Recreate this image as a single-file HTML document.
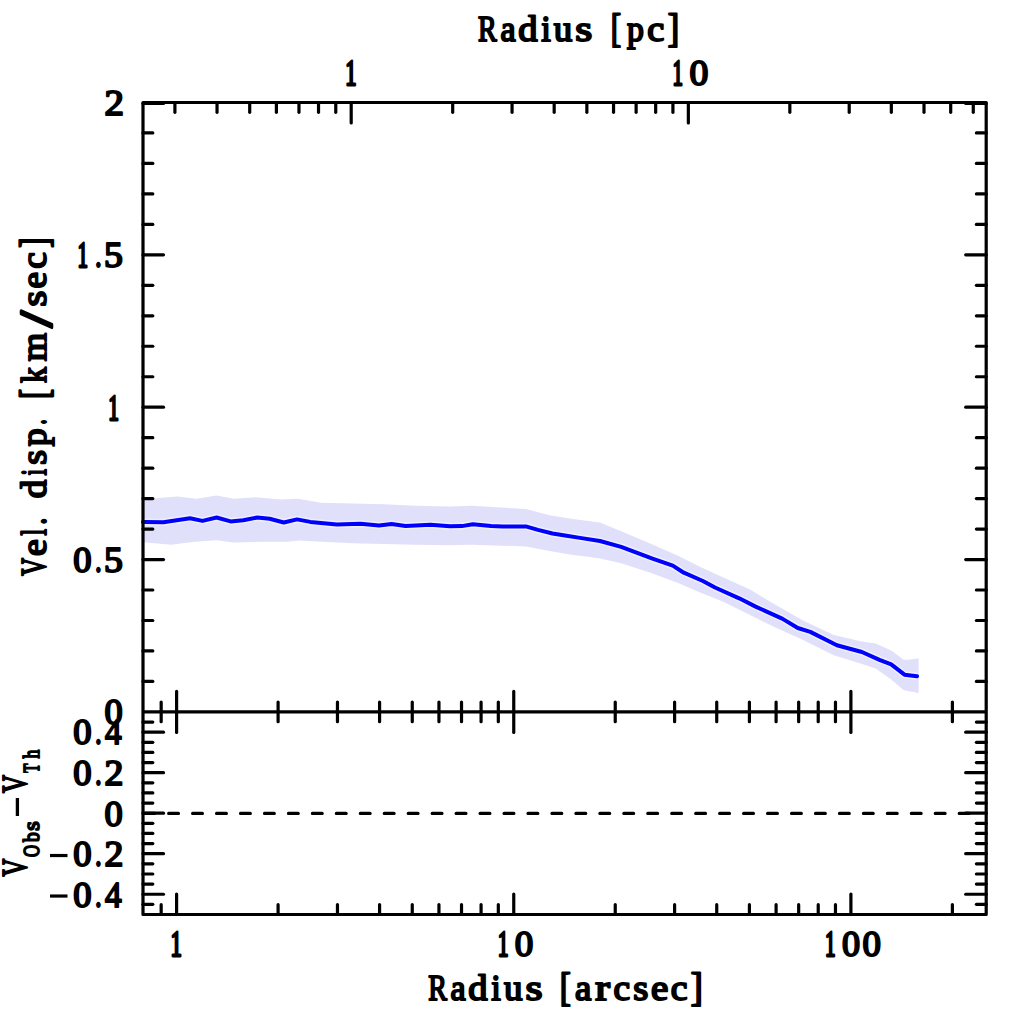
<!DOCTYPE html>
<html><head><meta charset="utf-8"><style>
html,body{margin:0;padding:0;background:#fff;width:1024px;height:1024px;overflow:hidden}
svg{display:block}
</style></head><body>
<svg width="1024" height="1024" viewBox="0 0 1024 1024">
<rect width="1024" height="1024" fill="#fff"/>
<path d="M143.0,500.5 L146.0,500.3 L158.8,498.0 L177.5,496.4 L196.2,498.8 L216.6,495.6 L233.8,498.8 L255.6,497.2 L280.6,499.5 L297.8,498.8 L321.2,502.7 L352.5,503.4 L383.8,504.2 L415.0,505.8 L450.0,506.6 L471.2,505.8 L526.0,508.9 L549.4,515.2 L572.8,519.0 L600.0,522.5 L621.2,531.2 L652.5,544.5 L677.5,555.5 L699.4,566.4 L722.8,577.3 L750.0,589.5 L771.2,602.2 L802.5,620.2 L833.8,635.0 L862.0,641.5 L875.6,643.4 L891.2,650.5 L903.8,659.8 L908.4,659.8 L918.6,658.3 L918.6,693.0 L903.8,690.3 L891.2,679.4 L875.6,668.4 L862.0,664.0 L833.8,655.3 L802.5,639.7 L771.2,625.6 L750.0,615.0 L722.8,601.6 L699.4,592.2 L677.5,582.8 L652.5,573.4 L621.2,563.3 L600.0,558.5 L590.0,557.0 L572.8,555.0 L549.4,551.0 L526.0,546.4 L471.2,544.8 L450.0,545.2 L415.0,544.8 L383.8,544.0 L352.5,543.3 L321.2,541.7 L300.0,540.5 L286.9,541.7 L265.0,541.7 L233.8,542.5 L216.6,540.2 L194.7,541.7 L171.2,544.8 L146.0,542.5 L143.0,542.5Z" fill="#e0e0fb" stroke="none"/>
<path d="M143.0,522.0 L144.7,521.9 L163.4,522.2 L190.0,518.3 L202.5,520.9 L216.6,517.5 L230.6,521.4 L243.2,520.2 L257.2,517.5 L269.7,518.8 L283.8,522.5 L297.0,519.4 L310.3,521.9 L336.9,524.5 L360.3,523.8 L379.0,525.6 L391.6,523.9 L405.6,526.0 L430.6,524.8 L450.0,526.3 L461.9,526.1 L472.8,524.2 L491.1,526.1 L502.5,526.6 L526.7,526.6 L538.0,529.9 L552.5,533.5 L565.0,535.5 L580.0,537.9 L600.0,541.0 L621.2,546.9 L652.5,558.6 L672.8,565.6 L683.8,572.7 L702.9,581.0 L715.0,587.5 L739.2,598.3 L755.6,606.6 L774.4,615.1 L782.2,618.6 L797.8,628.0 L810.3,631.9 L836.9,645.3 L861.9,652.0 L879.5,659.8 L891.2,664.3 L904.5,674.7 L917.0,676.2" fill="none" stroke="#f0f0fd" stroke-width="7" stroke-linejoin="round" stroke-linecap="butt"/>
<path d="M143.0,522.0 L144.7,521.9 L163.4,522.2 L190.0,518.3 L202.5,520.9 L216.6,517.5 L230.6,521.4 L243.2,520.2 L257.2,517.5 L269.7,518.8 L283.8,522.5 L297.0,519.4 L310.3,521.9 L336.9,524.5 L360.3,523.8 L379.0,525.6 L391.6,523.9 L405.6,526.0 L430.6,524.8 L450.0,526.3 L461.9,526.1 L472.8,524.2 L491.1,526.1 L502.5,526.6 L526.7,526.6 L538.0,529.9 L552.5,533.5 L565.0,535.5 L580.0,537.9 L600.0,541.0 L621.2,546.9 L652.5,558.6 L672.8,565.6 L683.8,572.7 L702.9,581.0 L715.0,587.5 L739.2,598.3 L755.6,606.6 L774.4,615.1 L782.2,618.6 L797.8,628.0 L810.3,631.9 L836.9,645.3 L861.9,652.0 L879.5,659.8 L891.2,664.3 L904.5,674.7 L917.0,676.2" fill="none" stroke="#0000ff" stroke-width="4.0" stroke-linejoin="round" stroke-linecap="round"/>
<g stroke="#000" fill="none">
<rect x="143.0" y="102.5" width="843.20" height="812.00" stroke-width="3.2" stroke-linejoin="round"/>
<line x1="143.00" y1="711.90" x2="986.20" y2="711.90" stroke-width="3.2" stroke-linecap="butt" />
<line x1="161.17" y1="702.10" x2="161.17" y2="721.70" stroke-width="3.2" stroke-linecap="round" />
<line x1="161.17" y1="914.50" x2="161.17" y2="904.70" stroke-width="3.2" stroke-linecap="round" />
<line x1="176.60" y1="691.40" x2="176.60" y2="732.40" stroke-width="3.2" stroke-linecap="round" />
<line x1="176.60" y1="914.50" x2="176.60" y2="894.00" stroke-width="3.2" stroke-linecap="round" />
<line x1="278.09" y1="702.10" x2="278.09" y2="721.70" stroke-width="3.2" stroke-linecap="round" />
<line x1="278.09" y1="914.50" x2="278.09" y2="904.70" stroke-width="3.2" stroke-linecap="round" />
<line x1="337.46" y1="702.10" x2="337.46" y2="721.70" stroke-width="3.2" stroke-linecap="round" />
<line x1="337.46" y1="914.50" x2="337.46" y2="904.70" stroke-width="3.2" stroke-linecap="round" />
<line x1="379.58" y1="702.10" x2="379.58" y2="721.70" stroke-width="3.2" stroke-linecap="round" />
<line x1="379.58" y1="914.50" x2="379.58" y2="904.70" stroke-width="3.2" stroke-linecap="round" />
<line x1="412.26" y1="702.10" x2="412.26" y2="721.70" stroke-width="3.2" stroke-linecap="round" />
<line x1="412.26" y1="914.50" x2="412.26" y2="904.70" stroke-width="3.2" stroke-linecap="round" />
<line x1="438.95" y1="702.10" x2="438.95" y2="721.70" stroke-width="3.2" stroke-linecap="round" />
<line x1="438.95" y1="914.50" x2="438.95" y2="904.70" stroke-width="3.2" stroke-linecap="round" />
<line x1="461.52" y1="702.10" x2="461.52" y2="721.70" stroke-width="3.2" stroke-linecap="round" />
<line x1="461.52" y1="914.50" x2="461.52" y2="904.70" stroke-width="3.2" stroke-linecap="round" />
<line x1="481.08" y1="702.10" x2="481.08" y2="721.70" stroke-width="3.2" stroke-linecap="round" />
<line x1="481.08" y1="914.50" x2="481.08" y2="904.70" stroke-width="3.2" stroke-linecap="round" />
<line x1="498.32" y1="702.10" x2="498.32" y2="721.70" stroke-width="3.2" stroke-linecap="round" />
<line x1="498.32" y1="914.50" x2="498.32" y2="904.70" stroke-width="3.2" stroke-linecap="round" />
<line x1="513.75" y1="691.40" x2="513.75" y2="732.40" stroke-width="3.2" stroke-linecap="round" />
<line x1="513.75" y1="914.50" x2="513.75" y2="894.00" stroke-width="3.2" stroke-linecap="round" />
<line x1="615.24" y1="702.10" x2="615.24" y2="721.70" stroke-width="3.2" stroke-linecap="round" />
<line x1="615.24" y1="914.50" x2="615.24" y2="904.70" stroke-width="3.2" stroke-linecap="round" />
<line x1="674.61" y1="702.10" x2="674.61" y2="721.70" stroke-width="3.2" stroke-linecap="round" />
<line x1="674.61" y1="914.50" x2="674.61" y2="904.70" stroke-width="3.2" stroke-linecap="round" />
<line x1="716.73" y1="702.10" x2="716.73" y2="721.70" stroke-width="3.2" stroke-linecap="round" />
<line x1="716.73" y1="914.50" x2="716.73" y2="904.70" stroke-width="3.2" stroke-linecap="round" />
<line x1="749.41" y1="702.10" x2="749.41" y2="721.70" stroke-width="3.2" stroke-linecap="round" />
<line x1="749.41" y1="914.50" x2="749.41" y2="904.70" stroke-width="3.2" stroke-linecap="round" />
<line x1="776.10" y1="702.10" x2="776.10" y2="721.70" stroke-width="3.2" stroke-linecap="round" />
<line x1="776.10" y1="914.50" x2="776.10" y2="904.70" stroke-width="3.2" stroke-linecap="round" />
<line x1="798.67" y1="702.10" x2="798.67" y2="721.70" stroke-width="3.2" stroke-linecap="round" />
<line x1="798.67" y1="914.50" x2="798.67" y2="904.70" stroke-width="3.2" stroke-linecap="round" />
<line x1="818.23" y1="702.10" x2="818.23" y2="721.70" stroke-width="3.2" stroke-linecap="round" />
<line x1="818.23" y1="914.50" x2="818.23" y2="904.70" stroke-width="3.2" stroke-linecap="round" />
<line x1="835.47" y1="702.10" x2="835.47" y2="721.70" stroke-width="3.2" stroke-linecap="round" />
<line x1="835.47" y1="914.50" x2="835.47" y2="904.70" stroke-width="3.2" stroke-linecap="round" />
<line x1="850.90" y1="691.40" x2="850.90" y2="732.40" stroke-width="3.2" stroke-linecap="round" />
<line x1="850.90" y1="914.50" x2="850.90" y2="894.00" stroke-width="3.2" stroke-linecap="round" />
<line x1="952.39" y1="702.10" x2="952.39" y2="721.70" stroke-width="3.2" stroke-linecap="round" />
<line x1="952.39" y1="914.50" x2="952.39" y2="904.70" stroke-width="3.2" stroke-linecap="round" />
<line x1="174.91" y1="102.50" x2="174.91" y2="112.30" stroke-width="3.2" stroke-linecap="round" />
<line x1="217.03" y1="102.50" x2="217.03" y2="112.30" stroke-width="3.2" stroke-linecap="round" />
<line x1="249.71" y1="102.50" x2="249.71" y2="112.30" stroke-width="3.2" stroke-linecap="round" />
<line x1="276.40" y1="102.50" x2="276.40" y2="112.30" stroke-width="3.2" stroke-linecap="round" />
<line x1="298.97" y1="102.50" x2="298.97" y2="112.30" stroke-width="3.2" stroke-linecap="round" />
<line x1="318.53" y1="102.50" x2="318.53" y2="112.30" stroke-width="3.2" stroke-linecap="round" />
<line x1="335.77" y1="102.50" x2="335.77" y2="112.30" stroke-width="3.2" stroke-linecap="round" />
<line x1="351.20" y1="102.50" x2="351.20" y2="123.00" stroke-width="3.2" stroke-linecap="round" />
<line x1="452.69" y1="102.50" x2="452.69" y2="112.30" stroke-width="3.2" stroke-linecap="round" />
<line x1="512.06" y1="102.50" x2="512.06" y2="112.30" stroke-width="3.2" stroke-linecap="round" />
<line x1="554.18" y1="102.50" x2="554.18" y2="112.30" stroke-width="3.2" stroke-linecap="round" />
<line x1="586.86" y1="102.50" x2="586.86" y2="112.30" stroke-width="3.2" stroke-linecap="round" />
<line x1="613.55" y1="102.50" x2="613.55" y2="112.30" stroke-width="3.2" stroke-linecap="round" />
<line x1="636.12" y1="102.50" x2="636.12" y2="112.30" stroke-width="3.2" stroke-linecap="round" />
<line x1="655.68" y1="102.50" x2="655.68" y2="112.30" stroke-width="3.2" stroke-linecap="round" />
<line x1="672.92" y1="102.50" x2="672.92" y2="112.30" stroke-width="3.2" stroke-linecap="round" />
<line x1="688.35" y1="102.50" x2="688.35" y2="123.00" stroke-width="3.2" stroke-linecap="round" />
<line x1="789.84" y1="102.50" x2="789.84" y2="112.30" stroke-width="3.2" stroke-linecap="round" />
<line x1="849.21" y1="102.50" x2="849.21" y2="112.30" stroke-width="3.2" stroke-linecap="round" />
<line x1="891.33" y1="102.50" x2="891.33" y2="112.30" stroke-width="3.2" stroke-linecap="round" />
<line x1="924.01" y1="102.50" x2="924.01" y2="112.30" stroke-width="3.2" stroke-linecap="round" />
<line x1="950.70" y1="102.50" x2="950.70" y2="112.30" stroke-width="3.2" stroke-linecap="round" />
<line x1="973.27" y1="102.50" x2="973.27" y2="112.30" stroke-width="3.2" stroke-linecap="round" />
<line x1="143.00" y1="681.43" x2="152.80" y2="681.43" stroke-width="3.2" stroke-linecap="round" />
<line x1="986.20" y1="681.43" x2="976.40" y2="681.43" stroke-width="3.2" stroke-linecap="round" />
<line x1="143.00" y1="650.96" x2="152.80" y2="650.96" stroke-width="3.2" stroke-linecap="round" />
<line x1="986.20" y1="650.96" x2="976.40" y2="650.96" stroke-width="3.2" stroke-linecap="round" />
<line x1="143.00" y1="620.49" x2="152.80" y2="620.49" stroke-width="3.2" stroke-linecap="round" />
<line x1="986.20" y1="620.49" x2="976.40" y2="620.49" stroke-width="3.2" stroke-linecap="round" />
<line x1="143.00" y1="590.02" x2="152.80" y2="590.02" stroke-width="3.2" stroke-linecap="round" />
<line x1="986.20" y1="590.02" x2="976.40" y2="590.02" stroke-width="3.2" stroke-linecap="round" />
<line x1="143.00" y1="559.55" x2="163.50" y2="559.55" stroke-width="3.2" stroke-linecap="round" />
<line x1="986.20" y1="559.55" x2="965.70" y2="559.55" stroke-width="3.2" stroke-linecap="round" />
<line x1="143.00" y1="529.08" x2="152.80" y2="529.08" stroke-width="3.2" stroke-linecap="round" />
<line x1="986.20" y1="529.08" x2="976.40" y2="529.08" stroke-width="3.2" stroke-linecap="round" />
<line x1="143.00" y1="498.61" x2="152.80" y2="498.61" stroke-width="3.2" stroke-linecap="round" />
<line x1="986.20" y1="498.61" x2="976.40" y2="498.61" stroke-width="3.2" stroke-linecap="round" />
<line x1="143.00" y1="468.14" x2="152.80" y2="468.14" stroke-width="3.2" stroke-linecap="round" />
<line x1="986.20" y1="468.14" x2="976.40" y2="468.14" stroke-width="3.2" stroke-linecap="round" />
<line x1="143.00" y1="437.67" x2="152.80" y2="437.67" stroke-width="3.2" stroke-linecap="round" />
<line x1="986.20" y1="437.67" x2="976.40" y2="437.67" stroke-width="3.2" stroke-linecap="round" />
<line x1="143.00" y1="407.20" x2="163.50" y2="407.20" stroke-width="3.2" stroke-linecap="round" />
<line x1="986.20" y1="407.20" x2="965.70" y2="407.20" stroke-width="3.2" stroke-linecap="round" />
<line x1="143.00" y1="376.73" x2="152.80" y2="376.73" stroke-width="3.2" stroke-linecap="round" />
<line x1="986.20" y1="376.73" x2="976.40" y2="376.73" stroke-width="3.2" stroke-linecap="round" />
<line x1="143.00" y1="346.26" x2="152.80" y2="346.26" stroke-width="3.2" stroke-linecap="round" />
<line x1="986.20" y1="346.26" x2="976.40" y2="346.26" stroke-width="3.2" stroke-linecap="round" />
<line x1="143.00" y1="315.79" x2="152.80" y2="315.79" stroke-width="3.2" stroke-linecap="round" />
<line x1="986.20" y1="315.79" x2="976.40" y2="315.79" stroke-width="3.2" stroke-linecap="round" />
<line x1="143.00" y1="285.32" x2="152.80" y2="285.32" stroke-width="3.2" stroke-linecap="round" />
<line x1="986.20" y1="285.32" x2="976.40" y2="285.32" stroke-width="3.2" stroke-linecap="round" />
<line x1="143.00" y1="254.85" x2="163.50" y2="254.85" stroke-width="3.2" stroke-linecap="round" />
<line x1="986.20" y1="254.85" x2="965.70" y2="254.85" stroke-width="3.2" stroke-linecap="round" />
<line x1="143.00" y1="224.38" x2="152.80" y2="224.38" stroke-width="3.2" stroke-linecap="round" />
<line x1="986.20" y1="224.38" x2="976.40" y2="224.38" stroke-width="3.2" stroke-linecap="round" />
<line x1="143.00" y1="193.91" x2="152.80" y2="193.91" stroke-width="3.2" stroke-linecap="round" />
<line x1="986.20" y1="193.91" x2="976.40" y2="193.91" stroke-width="3.2" stroke-linecap="round" />
<line x1="143.00" y1="163.44" x2="152.80" y2="163.44" stroke-width="3.2" stroke-linecap="round" />
<line x1="986.20" y1="163.44" x2="976.40" y2="163.44" stroke-width="3.2" stroke-linecap="round" />
<line x1="143.00" y1="132.97" x2="152.80" y2="132.97" stroke-width="3.2" stroke-linecap="round" />
<line x1="986.20" y1="132.97" x2="976.40" y2="132.97" stroke-width="3.2" stroke-linecap="round" />
<line x1="143.00" y1="103.40" x2="163.50" y2="103.40" stroke-width="3.2" stroke-linecap="round" />
<line x1="986.20" y1="103.40" x2="965.70" y2="103.40" stroke-width="3.2" stroke-linecap="round" />
<line x1="143.00" y1="904.37" x2="152.80" y2="904.37" stroke-width="3.2" stroke-linecap="round" />
<line x1="986.20" y1="904.37" x2="976.40" y2="904.37" stroke-width="3.2" stroke-linecap="round" />
<line x1="143.00" y1="894.24" x2="163.50" y2="894.24" stroke-width="3.2" stroke-linecap="round" />
<line x1="986.20" y1="894.24" x2="965.70" y2="894.24" stroke-width="3.2" stroke-linecap="round" />
<line x1="143.00" y1="884.11" x2="152.80" y2="884.11" stroke-width="3.2" stroke-linecap="round" />
<line x1="986.20" y1="884.11" x2="976.40" y2="884.11" stroke-width="3.2" stroke-linecap="round" />
<line x1="143.00" y1="873.98" x2="152.80" y2="873.98" stroke-width="3.2" stroke-linecap="round" />
<line x1="986.20" y1="873.98" x2="976.40" y2="873.98" stroke-width="3.2" stroke-linecap="round" />
<line x1="143.00" y1="863.85" x2="152.80" y2="863.85" stroke-width="3.2" stroke-linecap="round" />
<line x1="986.20" y1="863.85" x2="976.40" y2="863.85" stroke-width="3.2" stroke-linecap="round" />
<line x1="143.00" y1="853.72" x2="163.50" y2="853.72" stroke-width="3.2" stroke-linecap="round" />
<line x1="986.20" y1="853.72" x2="965.70" y2="853.72" stroke-width="3.2" stroke-linecap="round" />
<line x1="143.00" y1="843.59" x2="152.80" y2="843.59" stroke-width="3.2" stroke-linecap="round" />
<line x1="986.20" y1="843.59" x2="976.40" y2="843.59" stroke-width="3.2" stroke-linecap="round" />
<line x1="143.00" y1="833.46" x2="152.80" y2="833.46" stroke-width="3.2" stroke-linecap="round" />
<line x1="986.20" y1="833.46" x2="976.40" y2="833.46" stroke-width="3.2" stroke-linecap="round" />
<line x1="143.00" y1="823.33" x2="152.80" y2="823.33" stroke-width="3.2" stroke-linecap="round" />
<line x1="986.20" y1="823.33" x2="976.40" y2="823.33" stroke-width="3.2" stroke-linecap="round" />
<line x1="143.00" y1="813.20" x2="163.50" y2="813.20" stroke-width="3.2" stroke-linecap="round" />
<line x1="986.20" y1="813.20" x2="965.70" y2="813.20" stroke-width="3.2" stroke-linecap="round" />
<line x1="143.00" y1="803.07" x2="152.80" y2="803.07" stroke-width="3.2" stroke-linecap="round" />
<line x1="986.20" y1="803.07" x2="976.40" y2="803.07" stroke-width="3.2" stroke-linecap="round" />
<line x1="143.00" y1="792.94" x2="152.80" y2="792.94" stroke-width="3.2" stroke-linecap="round" />
<line x1="986.20" y1="792.94" x2="976.40" y2="792.94" stroke-width="3.2" stroke-linecap="round" />
<line x1="143.00" y1="782.81" x2="152.80" y2="782.81" stroke-width="3.2" stroke-linecap="round" />
<line x1="986.20" y1="782.81" x2="976.40" y2="782.81" stroke-width="3.2" stroke-linecap="round" />
<line x1="143.00" y1="772.68" x2="163.50" y2="772.68" stroke-width="3.2" stroke-linecap="round" />
<line x1="986.20" y1="772.68" x2="965.70" y2="772.68" stroke-width="3.2" stroke-linecap="round" />
<line x1="143.00" y1="762.55" x2="152.80" y2="762.55" stroke-width="3.2" stroke-linecap="round" />
<line x1="986.20" y1="762.55" x2="976.40" y2="762.55" stroke-width="3.2" stroke-linecap="round" />
<line x1="143.00" y1="752.42" x2="152.80" y2="752.42" stroke-width="3.2" stroke-linecap="round" />
<line x1="986.20" y1="752.42" x2="976.40" y2="752.42" stroke-width="3.2" stroke-linecap="round" />
<line x1="143.00" y1="742.29" x2="152.80" y2="742.29" stroke-width="3.2" stroke-linecap="round" />
<line x1="986.20" y1="742.29" x2="976.40" y2="742.29" stroke-width="3.2" stroke-linecap="round" />
<line x1="143.00" y1="732.16" x2="163.50" y2="732.16" stroke-width="3.2" stroke-linecap="round" />
<line x1="986.20" y1="732.16" x2="965.70" y2="732.16" stroke-width="3.2" stroke-linecap="round" />
<line x1="143.00" y1="722.03" x2="152.80" y2="722.03" stroke-width="3.2" stroke-linecap="round" />
<line x1="986.20" y1="722.03" x2="976.40" y2="722.03" stroke-width="3.2" stroke-linecap="round" />
<line x1="143.0" y1="813.40" x2="974.2" y2="813.40" stroke-width="3.2" stroke-linecap="round" stroke-dasharray="9.8 14.157" stroke-dashoffset="-1.7"/>
</g>
<g font-family="Liberation Serif" font-weight="normal" fill="#000" stroke="#000" stroke-linejoin="round">
<text transform="translate(104.46,114.80) scale(1.0788,1.0000)" font-size="36" stroke-width="2.0">2</text>
<text transform="translate(77.38,267.15) scale(0.5806,1.0000)" font-size="36" stroke-width="2.9">1</text>
<text transform="translate(94.88,267.15) scale(0.7500,1.0000)" font-size="36" stroke-width="2.0">.</text>
<text transform="translate(104.05,267.15) scale(1.0485,1.0000)" font-size="36" stroke-width="2.0">5</text>
<text transform="translate(108.36,419.50) scale(0.5935,1.0000)" font-size="36" stroke-width="2.9">1</text>
<text transform="translate(73.29,571.85) scale(1.0176,1.0000)" font-size="36" stroke-width="2.0">0</text>
<text transform="translate(94.88,571.85) scale(0.7500,1.0000)" font-size="36" stroke-width="2.0">.</text>
<text transform="translate(104.05,571.85) scale(1.0485,1.0000)" font-size="36" stroke-width="2.0">5</text>
<text transform="translate(104.59,724.20) scale(1.0118,1.0000)" font-size="36" stroke-width="2.0">0</text>
<text transform="translate(73.29,744.46) scale(1.0176,1.0000)" font-size="36" stroke-width="2.0">0</text>
<text transform="translate(94.88,744.46) scale(0.7500,1.0000)" font-size="36" stroke-width="2.0">.</text>
<text transform="translate(104.93,744.46) scale(0.9227,1.0000)" font-size="36" stroke-width="2.0">4</text>
<text transform="translate(73.29,784.98) scale(1.0176,1.0000)" font-size="36" stroke-width="2.0">0</text>
<text transform="translate(94.88,784.98) scale(0.7500,1.0000)" font-size="36" stroke-width="2.0">.</text>
<text transform="translate(104.58,784.98) scale(1.0485,1.0000)" font-size="36" stroke-width="2.0">2</text>
<text transform="translate(104.59,825.50) scale(1.0118,1.0000)" font-size="36" stroke-width="2.0">0</text>
<text transform="translate(73.29,866.02) scale(1.0176,1.0000)" font-size="36" stroke-width="2.0">0</text>
<text transform="translate(94.88,866.02) scale(0.7500,1.0000)" font-size="36" stroke-width="2.0">.</text>
<text transform="translate(104.58,866.02) scale(1.0485,1.0000)" font-size="36" stroke-width="2.0">2</text>
<text transform="translate(73.29,906.54) scale(1.0176,1.0000)" font-size="36" stroke-width="2.0">0</text>
<text transform="translate(94.88,906.54) scale(0.7500,1.0000)" font-size="36" stroke-width="2.0">.</text>
<text transform="translate(104.93,906.54) scale(0.9227,1.0000)" font-size="36" stroke-width="2.0">4</text>
<text transform="translate(170.59,956.40) scale(0.6323,1.0000)" font-size="36" stroke-width="2.9">1</text>
<text transform="translate(497.75,956.40) scale(0.6000,1.0000)" font-size="36" stroke-width="2.9">1</text>
<text transform="translate(514.69,956.40) scale(1.0294,1.0000)" font-size="36" stroke-width="2.0">0</text>
<text transform="translate(824.97,956.40) scale(0.5871,1.0000)" font-size="36" stroke-width="2.9">1</text>
<text transform="translate(841.90,956.40) scale(1.0059,1.0000)" font-size="36" stroke-width="2.0">0</text>
<text transform="translate(862.39,956.40) scale(1.0235,1.0000)" font-size="36" stroke-width="2.0">0</text>
<text transform="translate(345.30,85.20) scale(0.6258,1.0000)" font-size="36" stroke-width="2.9">1</text>
<text transform="translate(672.48,85.20) scale(0.5806,1.0000)" font-size="36" stroke-width="2.9">1</text>
<text transform="translate(689.38,85.20) scale(1.0471,1.0000)" font-size="36" stroke-width="2.0">0</text>
<text transform="translate(428.20,1000.30) scale(0.7800,1.0000)" font-size="36" stroke-width="2.0">R</text>
<text transform="translate(450.56,1000.30) scale(0.9477,1.0000)" font-size="36" stroke-width="2.0">a</text>
<text transform="translate(468.33,1000.30) scale(1.0685,1.0000)" font-size="36" stroke-width="2.0">d</text>
<text transform="translate(491.34,1000.30) scale(0.9524,1.0000)" font-size="36" stroke-width="2.0">i</text>
<text transform="translate(503.91,1000.30) scale(1.0263,1.0000)" font-size="36" stroke-width="2.0">u</text>
<text transform="translate(525.39,1000.30) scale(1.2151,1.0000)" font-size="36" stroke-width="2.0">s</text>
<text transform="translate(559.79,1001.25) scale(0.9200,1.1213)" font-size="36" stroke-width="2.0">[</text>
<text transform="translate(575.04,1000.30) scale(1.0215,1.0000)" font-size="36" stroke-width="2.0">a</text>
<text transform="translate(595.31,1000.30) scale(1.2231,1.0000)" font-size="36" stroke-width="2.0">r</text>
<text transform="translate(613.58,1000.30) scale(1.0361,1.0000)" font-size="36" stroke-width="2.0">c</text>
<text transform="translate(633.36,1000.30) scale(1.0792,1.0000)" font-size="36" stroke-width="2.0">s</text>
<text transform="translate(650.96,1000.30) scale(1.0820,1.0000)" font-size="36" stroke-width="2.0">e</text>
<text transform="translate(670.68,1000.30) scale(1.0426,1.0000)" font-size="36" stroke-width="2.0">c</text>
<text transform="translate(690.75,1001.25) scale(1.0000,1.1213)" font-size="36" stroke-width="2.0">]</text>
<text transform="translate(478.10,41.30) scale(0.7800,1.0000)" font-size="36" stroke-width="2.0">R</text>
<text transform="translate(500.46,41.30) scale(0.9477,1.0000)" font-size="36" stroke-width="2.0">a</text>
<text transform="translate(518.23,41.30) scale(1.0685,1.0000)" font-size="36" stroke-width="2.0">d</text>
<text transform="translate(541.24,41.30) scale(0.9524,1.0000)" font-size="36" stroke-width="2.0">i</text>
<text transform="translate(553.81,41.30) scale(1.0263,1.0000)" font-size="36" stroke-width="2.0">u</text>
<text transform="translate(575.29,41.30) scale(1.2151,1.0000)" font-size="36" stroke-width="2.0">s</text>
<text transform="translate(610.79,42.09) scale(0.8600,1.1150)" font-size="36" stroke-width="2.0">[</text>
<text transform="translate(627.07,41.30) scale(0.9389,1.0000)" font-size="36" stroke-width="2.0">p</text>
<text transform="translate(647.17,41.30) scale(1.0623,1.0000)" font-size="36" stroke-width="2.0">c</text>
<text transform="translate(667.76,42.09) scale(0.9500,1.1150)" font-size="36" stroke-width="2.0">]</text>
<text transform="translate(46.20,575.86) rotate(-90) scale(0.6852,1.0000)" font-size="36" stroke-width="2.0">V</text>
<text transform="translate(46.20,556.02) rotate(-90) scale(1.0492,1.0000)" font-size="36" stroke-width="2.0">e</text>
<text transform="translate(46.20,535.44) rotate(-90) scale(0.6571,1.0000)" font-size="36" stroke-width="2.0">l</text>
<text transform="translate(46.20,524.70) rotate(-90) scale(0.8000,1.0000)" font-size="36" stroke-width="2.0">.</text>
<text transform="translate(46.20,498.36) rotate(-90) scale(1.0301,1.0000)" font-size="36" stroke-width="2.0">d</text>
<text transform="translate(46.20,475.53) rotate(-90) scale(0.6667,1.0000)" font-size="36" stroke-width="2.0">i</text>
<text transform="translate(46.20,464.72) rotate(-90) scale(1.0491,1.0000)" font-size="36" stroke-width="2.0">s</text>
<text transform="translate(46.20,446.20) rotate(-90) scale(0.9944,1.0000)" font-size="36" stroke-width="2.0">p</text>
<text transform="translate(46.20,424.75) rotate(-90) scale(0.6333,1.0000)" font-size="36" stroke-width="2.0">.</text>
<text transform="translate(48.09,398.83) rotate(-90) scale(0.8200,1.1150)" font-size="36" stroke-width="2.0">[</text>
<text transform="translate(46.20,382.88) rotate(-90) scale(0.8831,1.0000)" font-size="36" stroke-width="2.0">k</text>
<text transform="translate(46.20,361.25) rotate(-90) scale(1.0157,1.0000)" font-size="36" stroke-width="2.0">m</text>
<text transform="translate(52.39,327.53) rotate(-90) scale(1.6667,1.2846)" font-size="36" stroke-width="2.0">/</text>
<text transform="translate(46.20,306.56) rotate(-90) scale(1.1245,1.0000)" font-size="36" stroke-width="2.0">s</text>
<text transform="translate(46.20,288.62) rotate(-90) scale(1.0361,1.0000)" font-size="36" stroke-width="2.0">e</text>
<text transform="translate(46.20,268.72) rotate(-90) scale(1.0361,1.0000)" font-size="36" stroke-width="2.0">c</text>
<text transform="translate(48.23,247.71) rotate(-90) scale(0.8400,1.1244)" font-size="36" stroke-width="2.0">]</text>
<text transform="translate(26.70,876.46) rotate(-90) scale(0.6852,1.0000)" font-size="36" stroke-width="2.0">V</text>
<text transform="translate(38.60,856.90) rotate(-90) scale(0.6899,1.0000)" font-size="24" stroke-width="1.9">O</text>
<text transform="translate(38.60,842.10) rotate(-90) scale(0.8000,1.0000)" font-size="24" stroke-width="1.9">b</text>
<text transform="translate(38.60,830.75) rotate(-90) scale(1.0053,1.0000)" font-size="24" stroke-width="1.9">s</text>
<text transform="translate(26.70,793.05) rotate(-90) scale(0.7000,1.0000)" font-size="36" stroke-width="2.0">V</text>
<text transform="translate(38.60,772.79) rotate(-90) scale(0.6286,1.0000)" font-size="24" stroke-width="1.9">T</text>
<text transform="translate(38.60,758.45) rotate(-90) scale(0.7333,1.0000)" font-size="24" stroke-width="1.9">h</text>
</g>
<line x1="50.00" y1="855.52" x2="67.50" y2="855.52" stroke-width="3.2" stroke-linecap="butt" stroke="#000"/>
<line x1="50.00" y1="896.04" x2="67.50" y2="896.04" stroke-width="3.2" stroke-linecap="butt" stroke="#000"/>
<line x1="17.40" y1="816.00" x2="17.40" y2="798.00" stroke-width="3.3" stroke-linecap="butt" stroke="#000"/>
</svg></body></html>
